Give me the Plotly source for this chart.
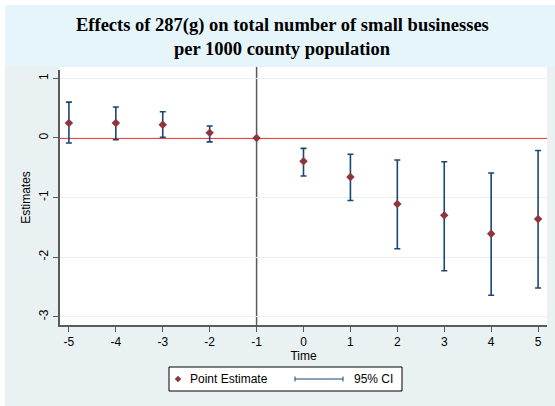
import plotly.graph_objects as go

# Event-study estimates of 287(g) on small businesses per 1000 county population
time = [-5, -4, -3, -2, -1, 0, 1, 2, 3, 4, 5]
estimate = [0.25, 0.25, 0.22, 0.085, 0.0, -0.39, -0.655, -1.11, -1.30, -1.61, -1.36]
ci_upper = [0.60, 0.52, 0.44, 0.20, None, -0.175, -0.275, -0.37, -0.40, -0.59, -0.21]
ci_lower = [-0.085, -0.03, 0.01, -0.067, None, -0.64, -1.05, -1.86, -2.23, -2.64, -2.52]

x_ticks = [-5, -4, -3, -2, -1, 0, 1, 2, 3, 4, 5]
x_ticktext = ["-5", "-4", "-3", "-2", "-1", "0", "1", "2", "3", "4", "5"]
y_ticks = [1, 0, -1, -2, -3]
y_ticktext = ["1", "0", "-1", "-2", "-3"]

NAVY = "#1A476F"
MAROON = "#90353B"
AXIS = "#5a5a5a"
BG = "#EAF1F3"
TITLE_BG = "#E6F5FA"

W, H = 555, 406
L, R, T, B = 60, 8, 70, 81
PW, PH = W - L - R, H - T - B


def px(x):
    return (x - L) / PW


def py(y):
    return (H - B - y) / PH


err_plus = [None if u is None else u - e for u, e in zip(ci_upper, estimate)]
err_minus = [None if l is None else e - l for l, e in zip(ci_lower, estimate)]

fig = go.Figure()

fig.add_trace(go.Scatter(
    x=time, y=estimate, mode="markers",
    marker=dict(symbol="diamond", size=6.5, color=MAROON),
    error_y=dict(type="data", symmetric=False, array=err_plus, arrayminus=err_minus,
                 color=NAVY, thickness=1.6, width=3),
    showlegend=False,
))

shapes = [
    # background regions
    dict(type="rect", xref="paper", yref="paper", x0=px(5), x1=px(W + 5), y0=py(H + 5), y1=py(5),
         fillcolor=BG, line_width=0, layer="below"),
    dict(type="rect", xref="paper", yref="paper", x0=px(5), x1=px(W + 5), y0=py(67), y1=py(5),
         fillcolor=TITLE_BG, line_width=0, layer="below"),
    dict(type="rect", xref="paper", yref="paper", x0=0, x1=1, y0=0, y1=py(67),
         fillcolor="white", line_width=0, layer="below"),
    # reference lines
    dict(type="line", xref="paper", yref="y", x0=0, x1=1, y0=0, y1=0,
         line=dict(color="#FF0000", width=1.6), layer="between"),
    dict(type="line", xref="x", yref="paper", x0=-1, x1=-1, y0=0, y1=py(67),
         line=dict(color=AXIS, width=1.5), layer="between"),
    # legend box
    dict(type="rect", xref="paper", yref="paper", x0=px(169), x1=px(402), y0=py(391), y1=py(367),
         fillcolor="white", line=dict(color="black", width=1)),
    # legend CI symbol
    dict(type="line", xref="paper", yref="paper", x0=px(295), x1=px(343), y0=py(379), y1=py(379),
         line=dict(color=NAVY, width=1)),
    dict(type="line", xref="paper", yref="paper", x0=px(295), x1=px(295), y0=py(376.5), y1=py(381.5),
         line=dict(color=NAVY, width=1)),
    dict(type="line", xref="paper", yref="paper", x0=px(343), x1=px(343), y0=py(376.5), y1=py(381.5),
         line=dict(color=NAVY, width=1)),
    # legend point symbol
    dict(type="path", xref="paper", yref="paper",
         path=f"M {px(178)},{py(376)} L {px(181)},{py(379)} L {px(178)},{py(382)} L {px(175)},{py(379)} Z",
         fillcolor=MAROON, line=dict(color=MAROON, width=0.5)),
]

annotations = [
    dict(text="<b>Effects of 287(g) on total number of small businesses</b>", xref="paper", yref="paper",
         x=px(282), y=py(26), xanchor="center", yanchor="middle", showarrow=False,
         font=dict(family="Liberation Serif", size=18.5, color="black")),
    dict(text="<b>per 1000 county population</b>", xref="paper", yref="paper",
         x=px(282), y=py(49), xanchor="center", yanchor="middle", showarrow=False,
         font=dict(family="Liberation Serif", size=18.5, color="black")),
    dict(text="Point Estimate", xref="paper", yref="paper", x=px(188), y=py(379),
         xanchor="left", yanchor="middle", showarrow=False,
         font=dict(family="Liberation Sans", size=12, color="black")),
    dict(text="95% CI", xref="paper", yref="paper", x=px(352), y=py(379),
         xanchor="left", yanchor="middle", showarrow=False,
         font=dict(family="Liberation Sans", size=12, color="black")),
]

fig.update_layout(
    width=W, height=H,
    margin=dict(l=L, r=R, t=T, b=B, pad=0),
    paper_bgcolor="white",
    plot_bgcolor="rgba(0,0,0,0)",
    font=dict(family="Liberation Sans", size=12, color="black"),
    shapes=shapes,
    annotations=annotations,
    showlegend=False,
    xaxis=dict(
        range=[-5.19, 5.19], tickmode="array", tickvals=x_ticks, ticktext=x_ticktext,
        ticks="outside", ticklen=5, tickwidth=1, tickcolor=AXIS,
        showline=True, linecolor=AXIS, linewidth=2, showgrid=False, zeroline=False,
        title=dict(text="Time", standoff=0, font=dict(size=12)),
        tickfont=dict(size=12),
    ),
    yaxis=dict(
        range=[-3.14, 1.14], tickmode="array", tickvals=y_ticks, ticktext=y_ticktext,
        ticks="outside", ticklen=5, tickwidth=1, tickcolor=AXIS, tickangle=-90,
        showline=True, linecolor=AXIS, linewidth=2,
        showgrid=True, gridcolor="#E8F0F1", gridwidth=1, zeroline=False,
        title=dict(text="Estimates", standoff=4, font=dict(size=12)),
        tickfont=dict(size=12),
    ),
)

fig.write_html("out.html")
